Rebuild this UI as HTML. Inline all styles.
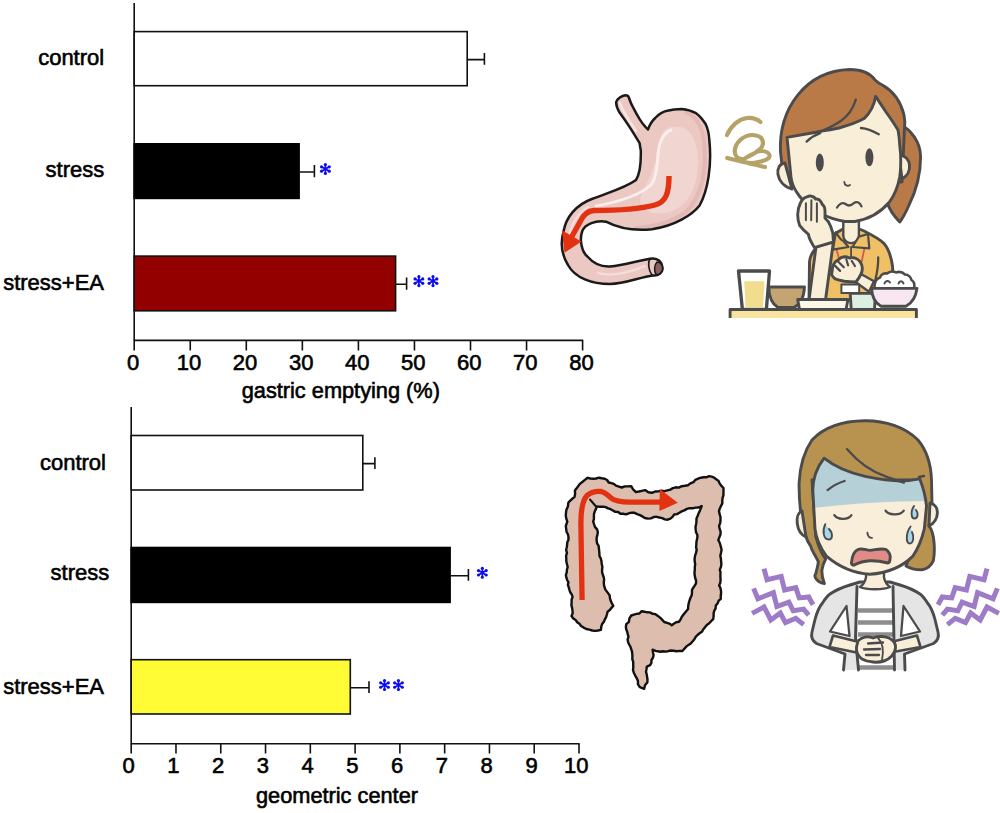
<!DOCTYPE html>
<html><head><meta charset="utf-8"><style>
html,body{margin:0;padding:0;background:#fff;}
body{width:1000px;height:813px;overflow:hidden;position:relative;}
svg{position:absolute;left:0;top:0;}
text{font-family:"Liberation Sans", sans-serif;}
</style></head><body>
<svg width="1000" height="813" viewBox="0 0 1000 813">
<g stroke="#111" stroke-width="1.6" fill="none"><line x1="134.2" y1="3" x2="134.2" y2="340.4" /><line x1="133.6" y1="340.4" x2="583.2" y2="340.4" /><line x1="134.20" y1="340.4" x2="134.20" y2="350.5" /><line x1="190.25" y1="340.4" x2="190.25" y2="350.5" /><line x1="246.30" y1="340.4" x2="246.30" y2="350.5" /><line x1="302.35" y1="340.4" x2="302.35" y2="350.5" /><line x1="358.40" y1="340.4" x2="358.40" y2="350.5" /><line x1="414.45" y1="340.4" x2="414.45" y2="350.5" /><line x1="470.50" y1="340.4" x2="470.50" y2="350.5" /><line x1="526.55" y1="340.4" x2="526.55" y2="350.5" /><line x1="582.60" y1="340.4" x2="582.60" y2="350.5" /></g><rect x="134.2" y="31.6" width="333.00" height="54.1" fill="#fff" stroke="#111" stroke-width="1.6"/><path d="M467.2 59.6H484.4M484.4 53V64.7" stroke="#111" stroke-width="1.6" fill="none"/><rect x="134.2" y="143.8" width="164.90" height="54.6" fill="#000" stroke="#000" stroke-width="1.6"/><path d="M299.1 172.0H314.4M314.4 164.9V177.2" stroke="#111" stroke-width="1.6" fill="none"/><rect x="134.2" y="256.1" width="261.40" height="54.7" fill="#920000" stroke="#111" stroke-width="1.6"/><path d="M395.6 284.3H406.6M406.6 277.4V289.7" stroke="#111" stroke-width="1.6" fill="none"/><g font-size="22" fill="#000" stroke="#000" stroke-width="0.6"><text x="104.2" y="65.2" text-anchor="end" >control</text><text x="104.3" y="177" text-anchor="end" >stress</text><text x="104.0" y="290" text-anchor="end" >stress+EA</text><text x="133.00" y="370" text-anchor="middle" >0</text><text x="189.05" y="370" text-anchor="middle" >10</text><text x="245.10" y="370" text-anchor="middle" >20</text><text x="301.15" y="370" text-anchor="middle" >30</text><text x="357.20" y="370" text-anchor="middle" >40</text><text x="413.25" y="370" text-anchor="middle" >50</text><text x="469.30" y="370" text-anchor="middle" >60</text><text x="525.35" y="370" text-anchor="middle" >70</text><text x="581.40" y="370" text-anchor="middle" >80</text><text x="241.7" y="397.5" text-anchor="start" font-size="21.75">gastric emptying (%)</text></g>
<g stroke="#111" stroke-width="1.6" fill="none"><line x1="131.2" y1="407" x2="131.2" y2="743.8" /><line x1="130.6" y1="743.8" x2="579.6" y2="743.8" /><line x1="131.20" y1="743.8" x2="131.20" y2="753.5" /><line x1="175.98" y1="743.8" x2="175.98" y2="753.5" /><line x1="220.76" y1="743.8" x2="220.76" y2="753.5" /><line x1="265.54" y1="743.8" x2="265.54" y2="753.5" /><line x1="310.32" y1="743.8" x2="310.32" y2="753.5" /><line x1="355.10" y1="743.8" x2="355.10" y2="753.5" /><line x1="399.88" y1="743.8" x2="399.88" y2="753.5" /><line x1="444.66" y1="743.8" x2="444.66" y2="753.5" /><line x1="489.44" y1="743.8" x2="489.44" y2="753.5" /><line x1="534.22" y1="743.8" x2="534.22" y2="753.5" /><line x1="579.00" y1="743.8" x2="579.00" y2="753.5" /></g><rect x="131.2" y="435.5" width="231.60" height="54.5" fill="#fff" stroke="#111" stroke-width="1.6"/><path d="M362.8 463.6H374.9M374.9 457.2V468.9" stroke="#111" stroke-width="1.6" fill="none"/><rect x="131.2" y="547.5" width="318.90" height="54.9" fill="#000" stroke="#000" stroke-width="1.6"/><path d="M450.1 575.8H468.4M468.4 568.9V580.7" stroke="#111" stroke-width="1.6" fill="none"/><rect x="131.2" y="659.7" width="219.10" height="54.3" fill="#fffb34" stroke="#111" stroke-width="1.6"/><path d="M350.3 687.8H369M369 681.2V693.1" stroke="#111" stroke-width="1.6" fill="none"/><g font-size="22" fill="#000" stroke="#000" stroke-width="0.6"><text x="106.0" y="469.5" text-anchor="end" >control</text><text x="109.3" y="580" text-anchor="end" >stress</text><text x="104.0" y="693.7" text-anchor="end" >stress+EA</text><text x="128.50" y="773.2" text-anchor="middle" >0</text><text x="173.28" y="773.2" text-anchor="middle" >1</text><text x="218.06" y="773.2" text-anchor="middle" >2</text><text x="262.84" y="773.2" text-anchor="middle" >3</text><text x="307.62" y="773.2" text-anchor="middle" >4</text><text x="352.40" y="773.2" text-anchor="middle" >5</text><text x="397.18" y="773.2" text-anchor="middle" >6</text><text x="441.96" y="773.2" text-anchor="middle" >7</text><text x="486.74" y="773.2" text-anchor="middle" >8</text><text x="531.52" y="773.2" text-anchor="middle" >9</text><text x="576.30" y="773.2" text-anchor="middle" >10</text><text x="256.0" y="803" text-anchor="start" font-size="21.75">geometric center</text></g>
<path d="M325.40 169.00L325.40 164.55M325.40 169.00L321.55 166.78M325.40 169.00L321.55 171.22M325.40 169.00L325.40 173.45M325.40 169.00L329.25 171.22M325.40 169.00L329.25 166.78" stroke="#0c0cf0" stroke-width="1.7" fill="none"/><g fill="#0c0cf0"><circle cx="325.40" cy="164.55" r="1.6"/><circle cx="321.55" cy="166.78" r="1.6"/><circle cx="321.55" cy="171.22" r="1.6"/><circle cx="325.40" cy="173.45" r="1.6"/><circle cx="329.25" cy="171.22" r="1.6"/><circle cx="329.25" cy="166.78" r="1.6"/></g><path d="M418.90 281.10L418.90 276.65M418.90 281.10L415.05 278.88M418.90 281.10L415.05 283.33M418.90 281.10L418.90 285.55M418.90 281.10L422.75 283.33M418.90 281.10L422.75 278.88" stroke="#0c0cf0" stroke-width="1.7" fill="none"/><g fill="#0c0cf0"><circle cx="418.90" cy="276.65" r="1.6"/><circle cx="415.05" cy="278.88" r="1.6"/><circle cx="415.05" cy="283.33" r="1.6"/><circle cx="418.90" cy="285.55" r="1.6"/><circle cx="422.75" cy="283.33" r="1.6"/><circle cx="422.75" cy="278.88" r="1.6"/></g><path d="M433.00 281.10L433.00 276.65M433.00 281.10L429.15 278.88M433.00 281.10L429.15 283.33M433.00 281.10L433.00 285.55M433.00 281.10L436.85 283.33M433.00 281.10L436.85 278.88" stroke="#0c0cf0" stroke-width="1.7" fill="none"/><g fill="#0c0cf0"><circle cx="433.00" cy="276.65" r="1.6"/><circle cx="429.15" cy="278.88" r="1.6"/><circle cx="429.15" cy="283.33" r="1.6"/><circle cx="433.00" cy="285.55" r="1.6"/><circle cx="436.85" cy="283.33" r="1.6"/><circle cx="436.85" cy="278.88" r="1.6"/></g><path d="M482.35 572.80L482.35 568.35M482.35 572.80L478.50 570.57M482.35 572.80L478.50 575.02M482.35 572.80L482.35 577.25M482.35 572.80L486.20 575.02M482.35 572.80L486.20 570.57" stroke="#0c0cf0" stroke-width="1.7" fill="none"/><g fill="#0c0cf0"><circle cx="482.35" cy="568.35" r="1.6"/><circle cx="478.50" cy="570.57" r="1.6"/><circle cx="478.50" cy="575.02" r="1.6"/><circle cx="482.35" cy="577.25" r="1.6"/><circle cx="486.20" cy="575.02" r="1.6"/><circle cx="486.20" cy="570.57" r="1.6"/></g><path d="M384.50 685.05L384.50 680.60M384.50 685.05L380.65 682.82M384.50 685.05L380.65 687.27M384.50 685.05L384.50 689.50M384.50 685.05L388.35 687.27M384.50 685.05L388.35 682.82" stroke="#0c0cf0" stroke-width="1.7" fill="none"/><g fill="#0c0cf0"><circle cx="384.50" cy="680.60" r="1.6"/><circle cx="380.65" cy="682.82" r="1.6"/><circle cx="380.65" cy="687.27" r="1.6"/><circle cx="384.50" cy="689.50" r="1.6"/><circle cx="388.35" cy="687.27" r="1.6"/><circle cx="388.35" cy="682.82" r="1.6"/></g><path d="M398.45 685.05L398.45 680.60M398.45 685.05L394.60 682.82M398.45 685.05L394.60 687.27M398.45 685.05L398.45 689.50M398.45 685.05L402.30 687.27M398.45 685.05L402.30 682.82" stroke="#0c0cf0" stroke-width="1.7" fill="none"/><g fill="#0c0cf0"><circle cx="398.45" cy="680.60" r="1.6"/><circle cx="394.60" cy="682.82" r="1.6"/><circle cx="394.60" cy="687.27" r="1.6"/><circle cx="398.45" cy="689.50" r="1.6"/><circle cx="402.30" cy="687.27" r="1.6"/><circle cx="402.30" cy="682.82" r="1.6"/></g>
<path d="M592.2,630.5 L589.3,629.7 L586.3,629.0 L583.6,627.6 L581.1,625.9 L579.4,623.8 L577.2,622.2 L575.6,620.0 L573.3,618.5 L571.5,616.0 L572.7,613.3 L572.5,610.6 L572.1,607.9 L571.4,605.1 L571.6,602.4 L571.6,599.7 L572.6,596.8 L571.7,594.4 L570.2,592.2 L569.4,589.8 L568.8,587.4 L567.9,585.0 L568.4,582.2 L567.1,580.0 L566.3,577.4 L565.9,574.8 L566.8,572.2 L566.9,569.6 L567.7,567.0 L567.0,564.2 L566.3,561.3 L566.3,558.5 L566.1,555.7 L567.0,552.8 L566.1,550.0 L566.7,547.5 L567.1,545.0 L567.3,542.3 L568.4,540.0 L568.5,537.1 L567.9,534.3 L566.5,531.7 L566.2,528.9 L565.8,526.0 L567.3,521.7 L566.3,518.7 L565.8,515.7 L566.0,512.6 L566.4,509.8 L567.9,506.4 L568.4,502.5 L570.3,500.6 L572.2,498.8 L574.6,496.9 L575.1,493.8 L574.9,490.4 L576.8,488.0 L578.6,485.6 L580.2,483.6 L582.6,481.8 L584.9,479.9 L587.6,477.8 L590.4,478.5 L593.2,478.7 L596.0,478.5 L599.0,477.7 L601.9,478.3 L604.7,478.7 L607.1,480.0 L608.7,482.5 L611.6,483.2 L614.2,484.2 L616.0,485.7 L618.9,486.6 L621.8,487.5 L624.8,486.4 L627.7,486.4 L631.2,486.1 L633.1,489.3 L635.9,492.1 L638.9,491.5 L641.9,490.8 L645.1,490.1 L648.3,492.3 L652.0,492.8 L655.1,491.5 L658.4,491.4 L661.4,490.8 L664.5,491.2 L667.4,490.4 L670.3,489.6 L672.9,488.1 L675.7,487.3 L678.8,487.6 L681.8,486.2 L684.9,485.8 L687.9,485.2 L690.4,483.4 L693.4,482.2 L695.4,479.8 L698.1,478.7 L700.8,477.7 L703.7,477.3 L706.7,477.2 L708.9,476.1 L711.7,476.6 L714.1,477.6 L716.2,479.3 L718.4,480.7 L719.6,483.3 L721.2,485.7 L723.5,488.0 L723.5,491.7 L723.4,495.4 L722.6,497.9 L722.3,500.7 L722.3,503.5 L721.0,505.9 L719.8,508.4 L719.0,511.1 L719.6,514.2 L720.5,517.2 L720.5,520.3 L720.2,523.1 L719.1,525.9 L719.6,528.7 L720.6,531.6 L720.5,534.4 L719.4,537.2 L718.3,540.2 L719.6,542.5 L720.4,545.0 L721.0,547.4 L721.6,550.0 L721.0,552.8 L720.3,555.7 L720.9,558.5 L721.1,561.3 L721.4,564.2 L720.9,567.0 L719.8,569.6 L720.5,572.2 L720.4,574.8 L720.4,577.4 L720.6,580.0 L720.3,582.7 L719.2,585.4 L720.4,588.0 L721.0,590.7 L721.1,593.3 L720.7,596.0 L720.8,598.8 L718.7,600.7 L717.5,603.4 L715.8,605.5 L715.6,608.3 L714.2,610.8 L713.6,613.5 L713.6,616.3 L713.2,619.2 L711.1,621.2 L709.2,623.3 L706.8,625.0 L705.0,627.3 L703.2,629.5 L701.9,631.8 L699.6,633.3 L697.5,635.0 L695.7,636.9 L694.4,639.3 L692.7,641.3 L690.8,643.4 L688.5,644.9 L686.3,646.6 L684.4,648.7 L682.4,651.0 L679.5,650.9 L676.7,651.3 L673.8,650.7 L670.9,650.5 L668.0,651.2 L665.5,651.6 L662.9,651.2 L660.3,651.7 L657.8,651.3 L655.6,650.8 L652.6,649.7 L653.0,652.5 L653.6,655.3 L652.9,657.9 L651.5,660.0 L651.4,662.9 L650.1,665.2 L646.8,666.7 L646.5,669.2 L646.0,671.8 L646.7,674.4 L647.1,676.9 L647.5,679.5 L647.4,682.3 L645.0,685.3 L644.2,688.8 L639.8,687.2 L638.0,684.4 L637.9,680.8 L636.5,677.8 L635.1,675.3 L633.8,672.7 L633.0,670.0 L633.3,667.3 L633.2,664.6 L633.2,661.9 L632.3,659.2 L632.4,656.7 L632.3,654.1 L632.0,651.5 L631.2,649.1 L630.4,646.7 L629.1,644.5 L628.1,642.1 L627.6,639.5 L628.5,636.9 L627.8,634.4 L627.2,631.8 L626.2,629.4 L625.9,626.8 L626.3,624.2 L628.9,621.9 L629.4,618.4 L631.3,615.5 L633.9,614.6 L636.6,613.9 L639.4,613.5 L641.7,611.2 L644.4,611.7 L647.1,612.3 L649.9,612.4 L652.4,613.7 L655.1,614.1 L657.6,615.8 L660.1,617.6 L662.1,619.7 L664.2,622.0 L667.1,622.9 L670.0,623.9 L671.7,625.2 L673.8,623.7 L676.1,622.3 L679.0,621.7 L680.6,619.4 L681.7,617.0 L683.7,614.3 L685.8,611.7 L688.1,609.0 L688.2,605.9 L688.8,602.9 L689.7,599.9 L690.6,597.5 L691.7,595.2 L692.0,592.7 L692.0,589.9 L693.3,587.7 L694.7,585.6 L696.0,583.4 L696.1,580.6 L695.2,578.0 L694.7,575.3 L694.5,572.5 L694.8,569.7 L694.8,567.0 L695.2,564.2 L694.7,561.3 L694.6,558.4 L695.1,555.6 L696.0,552.9 L696.7,550.1 L696.1,547.5 L696.3,545.0 L696.4,542.4 L696.8,540.0 L697.4,537.4 L697.3,534.7 L696.0,532.2 L695.7,529.7 L695.5,526.9 L696.1,524.0 L696.4,521.8 L696.5,518.5 L697.7,515.7 L698.8,512.9 L700.3,509.7 L701.7,506.0 L698.7,507.5 L695.5,507.6 L692.7,508.3 L689.7,508.2 L686.9,508.9 L684.3,510.4 L681.7,511.4 L679.4,512.8 L677.0,514.1 L674.2,514.5 L672.5,516.9 L670.4,518.6 L667.6,519.7 L664.8,519.4 L662.2,518.1 L659.4,517.5 L656.6,516.8 L654.2,516.9 L650.9,518.4 L647.9,518.6 L644.8,518.0 L642.4,516.4 L639.9,515.1 L637.2,514.1 L634.5,512.8 L631.5,512.7 L628.7,513.3 L626.0,514.4 L623.1,513.8 L620.4,513.7 L618.2,512.0 L615.3,511.9 L612.9,510.5 L610.6,509.2 L608.1,508.4 L605.7,507.1 L603.0,506.6 L599.6,506.7 L596.9,506.4 L596.0,508.9 L594.8,511.3 L594.0,513.8 L593.9,516.5 L593.9,519.2 L593.2,521.4 L594.1,524.3 L595.1,527.1 L597.1,529.4 L597.8,532.0 L597.5,534.7 L596.7,537.4 L596.6,540.1 L597.0,543.1 L598.6,545.9 L598.9,548.4 L599.2,551.0 L599.4,553.6 L599.5,556.2 L600.8,558.5 L601.5,561.2 L601.7,564.0 L602.4,566.7 L602.1,569.5 L602.1,572.3 L602.9,575.0 L603.8,577.4 L604.1,579.9 L603.8,582.5 L604.0,585.1 L604.6,587.5 L605.4,589.6 L607.5,592.4 L609.6,595.2 L609.9,597.9 L610.6,600.5 L611.7,603.0 L613.3,605.9 L611.4,607.9 L609.8,610.0 L607.6,611.7 L606.9,614.5 L606.1,617.2 L604.9,619.3 L603.9,621.8 L602.1,624.1 L601.3,626.6 L600.9,629.8 L598.0,630.5 L595.0,630.9 Z" fill="#dcbdae" stroke="#111" stroke-width="2.4" stroke-linejoin="round" stroke-linecap="round" />
<path d="M596,506.5 L590,499.5" fill="none" stroke="#111" stroke-width="2.0" stroke-linejoin="round" stroke-linecap="round" />
<path d="M582.1,600 L580.9,525 C580.7,510 582,501 587,495.5 C591,492 597,491 601.3,491.5 C605,492.5 608,495 611,498 C614,500.5 620,502 630,502.2 L660,502.2" fill="none" stroke="#e23211" stroke-width="5.3" stroke-linejoin="round" stroke-linecap="butt" />
<path d="M659.8,489 L677.8,502.8 L659.4,511.1 Z" fill="#e23211" />
<path d="M616.2,102 C617,99 622,95.5 625.2,95.2 C627,95.2 628.5,96 628.8,97.5 C631,104 633.6,108.4 633.6,108.4 C636,113 639.6,119.2 639.6,119.2 C642,123 645,127 648,129.4 C650,124 653,120 655.2,118 C659,114 663,111.5 667.2,110.8 C672,109.5 676,109 681.6,109 C688,109.5 692,111 696,113.2 C700,116 703,120 705.6,124 C708,129 709,133 709.3,140 C712,165 708,190 699.6,205.5 C692,215 675,226 652,229.3 C635,231 618,228 606,221.7 C596,220 585,224 582.3,231 C579,240 582,252 587.4,256.5 C593,263 601,267 610,266.5 C625,265 640,260 652,258.5 C658,258 662,262 662.5,267.5 C663,273 658,276 653,275.5 C640,277 625,284 610,284 C592,284 575,278 568,265 C560,252 561,240 563.6,231 C566,218 575,205 592.5,198.7 C610,192 625,188 636,180 C640,174 641,160 640.8,150.4 C640,146 639.6,143.2 639.6,143.2 C636,137 630,127.6 630,127.6 C625,120 619.2,112 619.2,112 C617.5,109 616,106 616.2,102 Z" fill="#ecc8c2" />
<clipPath id="stc"><path d="M616.2,102 C617,99 622,95.5 625.2,95.2 C627,95.2 628.5,96 628.8,97.5 C631,104 633.6,108.4 633.6,108.4 C636,113 639.6,119.2 639.6,119.2 C642,123 645,127 648,129.4 C650,124 653,120 655.2,118 C659,114 663,111.5 667.2,110.8 C672,109.5 676,109 681.6,109 C688,109.5 692,111 696,113.2 C700,116 703,120 705.6,124 C708,129 709,133 709.3,140 C712,165 708,190 699.6,205.5 C692,215 675,226 652,229.3 C635,231 618,228 606,221.7 C596,220 585,224 582.3,231 C579,240 582,252 587.4,256.5 C593,263 601,267 610,266.5 C625,265 640,260 652,258.5 C658,258 662,262 662.5,267.5 C663,273 658,276 653,275.5 C640,277 625,284 610,284 C592,284 575,278 568,265 C560,252 561,240 563.6,231 C566,218 575,205 592.5,198.7 C610,192 625,188 636,180 C640,174 641,160 640.8,150.4 C640,146 639.6,143.2 639.6,143.2 C636,137 630,127.6 630,127.6 C625,120 619.2,112 619.2,112 C617.5,109 616,106 616.2,102 Z"/></clipPath>
<path d="M682,107 C702,108 711,125 711,150 C711,180 705,205 690,218 C675,228 655,232 630,230 L640,238 C680,236 718,215 718,150 C718,110 700,100 682,100 Z" fill="#dcaea9" clip-path="url(#stc)"/>
<path d="M686,112 C700,118 705,135 705,155 C705,180 698,200 686,212 C672,222 655,227 636,228" fill="none" stroke="#e2b9b4" stroke-width="4" stroke-linejoin="round" stroke-linecap="round" clip-path="url(#stc)"/>
<path d="M668,128 C685,122 698,135 698,160 C698,185 690,205 670,212 C655,216 640,212 640,200 C645,185 655,170 658,150 C660,138 662,130 668,128 Z" fill="#f0d5d1" clip-path="url(#stc)"/>
<path d="M620,103 C623,112 629,121 636,131" fill="none" stroke="#f8e6e2" stroke-width="2.4" stroke-linejoin="round" stroke-linecap="round" />
<path d="M671,130 C664,133 659,142 658,155 C657,168 656,178 651,185 C640,195 618,202 596,206" fill="none" stroke="#fbeeeb" stroke-width="3.0" stroke-linejoin="round" stroke-linecap="round" />
<path d="M588,207 C578,213 572,222 569,236" fill="none" stroke="#f5dedb" stroke-width="2.2" stroke-linejoin="round" stroke-linecap="round" />
<path d="M598,273 C612,277 628,273 645,266" fill="none" stroke="#f5dedb" stroke-width="2.0" stroke-linejoin="round" stroke-linecap="round" />
<path d="M616.2,102 C617,99 622,95.5 625.2,95.2 C627,95.2 628.5,96 628.8,97.5 C631,104 633.6,108.4 633.6,108.4 C636,113 639.6,119.2 639.6,119.2 C642,123 645,127 648,129.4 C650,124 653,120 655.2,118 C659,114 663,111.5 667.2,110.8 C672,109.5 676,109 681.6,109 C688,109.5 692,111 696,113.2 C700,116 703,120 705.6,124 C708,129 709,133 709.3,140 C712,165 708,190 699.6,205.5 C692,215 675,226 652,229.3 C635,231 618,228 606,221.7 C596,220 585,224 582.3,231 C579,240 582,252 587.4,256.5 C593,263 601,267 610,266.5 C625,265 640,260 652,258.5 C658,258 662,262 662.5,267.5 C663,273 658,276 653,275.5 C640,277 625,284 610,284 C592,284 575,278 568,265 C560,252 561,240 563.6,231 C566,218 575,205 592.5,198.7 C610,192 625,188 636,180 C640,174 641,160 640.8,150.4 C640,146 639.6,143.2 639.6,143.2 C636,137 630,127.6 630,127.6 C625,120 619.2,112 619.2,112 C617.5,109 616,106 616.2,102 Z" fill="none" stroke="#1a1a1a" stroke-width="2.5" stroke-linejoin="round" stroke-linecap="round" />
<path d="M650,258.5 C648,262 648,270 652,275" fill="none" stroke="#1a1a1a" stroke-width="1.6" stroke-linejoin="round" stroke-linecap="round" />
<path d="M657,262 C661,262 663,266 662.5,269 C662,273 659,275 656,274.5 C654,271 654,265 657,262 Z" fill="#8a6060" stroke="#1a1a1a" stroke-width="1.5" stroke-linejoin="round" stroke-linecap="round" />
<path d="M669,176 C669,193 666,202 655,205 C640,209 612,210.5 594,210.5 C587,211 583,215 580,222 L571,238" fill="none" stroke="#e23211" stroke-width="5.4" stroke-linejoin="round" stroke-linecap="butt" />
<path d="M561.9,230.2 L581.5,241.5 L564.5,252.8 Z" fill="#e23211" />
<path d="M727,135 C731,125.5 739,119 747,118 C752,117.5 757,119 760.5,122" fill="none" stroke="#b5a266" stroke-width="4.2" stroke-linejoin="round" stroke-linecap="round" />
<path d="M743,159.4 C738,159 734.5,156 734.8,151 C735,143 743,135 752.7,135 C759,135 763,138 763,143.2 C763,148 757,152 751,155 C747,157 745,158.5 743,159.4" fill="none" stroke="#b5a266" stroke-width="4.2" stroke-linejoin="round" stroke-linecap="round" />
<path d="M727.2,158 L737.5,160.5 C741,161.5 745,162.6 750,163" fill="none" stroke="#b5a266" stroke-width="4.2" stroke-linejoin="round" stroke-linecap="round" />
<path d="M757,151.5 C762,150.5 768,151 769.5,155 C770.5,158.5 766,160 761,161.5 C757,162.5 752,163.2 748.4,163.2 C754,164.5 760,166 765.1,167" fill="none" stroke="#b5a266" stroke-width="4.0" stroke-linejoin="round" stroke-linecap="round" />
<path d="M900,124 C911,130 920.6,142 920.6,157 C920.6,176 915,193 909,205 C906,212 903,218 899.7,222 C894,216 889,209 887,202 L897,150 Z" fill="#b97a48" stroke="#4b4b4b" stroke-width="2.9" stroke-linejoin="round" stroke-linecap="round" />
<path d="M780.5,152 C778.5,108 806,71 849.5,69.5 C862,69.5 870,73 875,80 C878,83 880,84 884,86 C894,92 901,103 904,115 C905,120 905,124 904.5,128 L902,182 L784,182 Z" fill="#b97a48" stroke="#4b4b4b" stroke-width="2.9" stroke-linejoin="round" stroke-linecap="round" />
<path d="M785,163 C774,164 775,184 792,189 Z" fill="#f9eed8" stroke="#4b4b4b" stroke-width="2.9" stroke-linejoin="round" stroke-linecap="round" />
<path d="M899,155 C912,156 913,173 902,179 Z" fill="#f9eed8" stroke="#4b4b4b" stroke-width="2.9" stroke-linejoin="round" stroke-linecap="round" />
<path d="M809,300 L809.5,262 C810,252 820,242 836,233 L843,229 L859,229 L863,230.5 C872,235 880,239 884,243.5 C888,248 891,256 892.5,266 L894,300 Z" fill="#efc066" stroke="#4b4b4b" stroke-width="2.9" stroke-linejoin="round" stroke-linecap="round" />
<path d="M835.5,246 L838.9,258 M865,246 L861.6,261.7" fill="none" stroke="#d45a4a" stroke-width="1.8" stroke-linejoin="round" stroke-linecap="round" />
<path d="M843.3,218 L843.3,236 C843.5,240 847,243.1 851.1,243.1 C855,243.1 858.9,240 858.9,236 L858.9,218 Z" fill="#f9eed8" stroke="#4b4b4b" stroke-width="2.4" stroke-linejoin="round" stroke-linecap="round" />
<path d="M836,232 C838,236 841,240 843.3,241 L848.5,247 L832.9,249.6 Z" fill="#efc066" stroke="#4b4b4b" stroke-width="2.2" stroke-linejoin="round" stroke-linecap="round" />
<path d="M858.9,236.6 L868,234 L869.3,248.3 L852.4,247 Z" fill="#efc066" stroke="#4b4b4b" stroke-width="2.2" stroke-linejoin="round" stroke-linecap="round" />
<path d="M851.1,247 L851.1,257.4" fill="none" stroke="#4b4b4b" stroke-width="1.8" stroke-linejoin="round" stroke-linecap="round" />
<path d="M787,137.4 L816,132.2 C825,130.5 832,129.5 839,128 C850,125 858,122 864.1,118.6 C870,113 874,107 875.6,96.4 L886,112 C891,119 895,125 898,130 C899,135 899.5,140 899.8,146 L900.6,154 C901,165 900.5,172 899.7,177 C897.5,189 894,196 889.2,202.3 C881,212 870,219 855,221.5 L845,221.5 C828,219 810,210 799.3,196 C794,189 791.5,183 791,177 L788.5,152 Z" fill="#f9eed8" stroke="#4b4b4b" stroke-width="2.9" stroke-linejoin="round" stroke-linecap="round" />
<path d="M855.8,99.7 C853,109 848,116 841.1,120.7 C834,125.5 826,129.5 818.1,132.2" fill="none" stroke="#4b4b4b" stroke-width="2.3" stroke-linejoin="round" stroke-linecap="round" />
<ellipse cx="819.8" cy="162.5" rx="4" ry="9" fill="#4b4b4b"/>
<ellipse cx="869.4" cy="157.3" rx="4" ry="9" fill="#4b4b4b"/>
<path d="M806.6,141.6 C811,137.5 815,135 820.2,133.2" fill="none" stroke="#4b4b4b" stroke-width="2.3" stroke-linejoin="round" stroke-linecap="round" />
<path d="M861,128 C867,128.5 873,131 878.8,134.3" fill="none" stroke="#4b4b4b" stroke-width="2.3" stroke-linejoin="round" stroke-linecap="round" />
<path d="M844.3,182 C844.5,185.5 847.5,186.5 850,185" fill="none" stroke="#4b4b4b" stroke-width="1.9" stroke-linejoin="round" stroke-linecap="round" />
<path d="M837,207.5 C839.5,203.5 842.5,202 845.5,204 C848.5,206.5 851,206 854,203 C857,201 860,202.5 861.5,206.4" fill="none" stroke="#4b4b4b" stroke-width="2.3" stroke-linejoin="round" stroke-linecap="round" />
<path d="M809,300 L816,247 L833.5,241 L825.5,300 Z" fill="#f9eed8" stroke="#4b4b4b" stroke-width="2.9" stroke-linejoin="round" stroke-linecap="round" />
<path d="M814.4,247.6 C811,242 808.5,236 808.5,234.3 C803,230 799.6,225.4 799.6,225.4 C797,219 797,210 800,204 C801.5,200 804,197.5 807,196.8 C809,195.8 811,195.8 812.5,196.5 C814,197 815,198 815.6,199.2 C817.5,198.8 819.5,199.5 820.6,201.3 C821.5,202.5 822,203.5 822.3,204.5 C824,205.5 825,208 825,211 L825,218 C826.5,220 828.4,221.7 828.4,221.7 C831,226 832.8,232.8 832.8,232.8 L833.5,242 Z" fill="#f9eed8" stroke="#4b4b4b" stroke-width="2.9" stroke-linejoin="round" stroke-linecap="round" />
<path d="M805.9,203.3 L805.9,220.3 M811.4,200.3 L811.2,220.3 M816.9,203.3 L816.9,221.7" fill="none" stroke="#4b4b4b" stroke-width="2.0" stroke-linejoin="round" stroke-linecap="round" />
<path d="M878.2,257.4 C878.5,265 877,273 875.2,280.7" fill="none" stroke="#4b4b4b" stroke-width="2.3" stroke-linejoin="round" stroke-linecap="round" />
<path d="M861,274 L874,281.3 L869,291.8 L855.5,282 Z" fill="#f9eed8" stroke="#4b4b4b" stroke-width="2.4" stroke-linejoin="round" stroke-linecap="round" />
<path d="M832.1,271.5 C832,268 833,265 834,263.5 C835.5,261.5 837,260.5 838.3,259.8 C840,258 842,257 844.4,256.8 C846.5,256.8 848,257.3 849.4,258 C851,257.5 853,257.5 854.9,258 C857.5,259 859.5,260.5 860.4,262.3 C861.5,264 862.3,266 862.3,268.4 C862.3,270.5 861.8,272.5 861,274 C859,278 857,281 855.5,282 C852,282 848,281.8 844.4,281.3 C840,280.5 837.5,279.8 835.2,278.9 C833.5,277.5 832.3,276 831.5,274.6 Z" fill="#f9eed8" stroke="#4b4b4b" stroke-width="2.9" stroke-linejoin="round" stroke-linecap="round" />
<path d="M834.6,265.4 L840.1,270.9 M838.3,261.7 L843.8,267.2 M846.3,259.2 L848.1,265.4 M851.8,261 L854.9,266" fill="none" stroke="#4b4b4b" stroke-width="2.2" stroke-linejoin="round" stroke-linecap="round" />
<path d="M841.4,284.4 L859.2,284.4 L859.2,293 L841.4,293 Z" fill="#ffffff" stroke="#4b4b4b" stroke-width="2.0" stroke-linejoin="round" stroke-linecap="round" />
<path d="M738.5,271 L769.5,271 L766.4,309.5 L742.4,309.5 Z" fill="#ffffff" stroke="#4b4b4b" stroke-width="3.3" stroke-linejoin="round" stroke-linecap="round" />
<path d="M744.2,281.2 L764.5,281.2 L763,307.2 L745.6,307.2 Z" fill="#f2dc8e" />
<path d="M768.8,287 L804.5,287 C804,296 801,304 794,307.5 L778,307.5 C772,304 769,296 768.8,287 Z" fill="#c4a472" stroke="#4b4b4b" stroke-width="2.9" stroke-linejoin="round" stroke-linecap="round" />
<path d="M797.7,299.5 L848,299.5 L846,309.5 L799.5,309.5 Z" fill="#fbf8e8" stroke="#4b4b4b" stroke-width="2.9" stroke-linejoin="round" stroke-linecap="round" />
<path d="M850.2,293.4 L875.5,293.4 L874.5,309.5 L851.2,309.5 Z" fill="#dcefe2" stroke="#4b4b4b" stroke-width="2.9" stroke-linejoin="round" stroke-linecap="round" />
<path d="M874.6,288.4 C874,283 876,279 880,277.5 C881,274.5 884,273 887,273.5 C889,271.5 893,271 896,272.4 C899,271.5 903,272.5 905,274.5 C908,274.5 911,277 911.5,280 C914,281.5 915,284.5 913.9,288.4 Z" fill="#ffffff" stroke="#4b4b4b" stroke-width="2.6" stroke-linejoin="round" stroke-linecap="round" />
<path d="M884.5,283.5 C885.5,280.5 888.5,280 890,282.5 M898.5,283.5 C899.5,280.5 902.5,280.5 903.5,283.5" fill="none" stroke="#4b4b4b" stroke-width="2.0" stroke-linejoin="round" stroke-linecap="round" />
<path d="M871.5,288.4 L917,288.4 C916,296 912,303 906,306.3 L881,306.3 C875,303 872,296 871.5,288.4 Z" fill="#f8e7f0" stroke="#4b4b4b" stroke-width="2.9" stroke-linejoin="round" stroke-linecap="round" />
<path d="M884,309 L901,309" fill="none" stroke="#4b4b4b" stroke-width="2.4" stroke-linejoin="round" stroke-linecap="round" />
<path d="M730.1,318 L730.1,309.5 L916.4,309.5 L916.4,318 Z" fill="#f8e49e" />
<path d="M730.1,318 L730.1,309.5 L916.4,309.5 L916.4,318" fill="none" stroke="#4b4b4b" stroke-width="2.9" stroke-linejoin="round" stroke-linecap="butt" />
<path d="M764.0,568.6 L767.0,579.8 L781.2,576.4 L784.6,590.0 L795.8,587.6 L799.3,597.9 L808.7,597.0 L813.0,604.8" fill="none" stroke="#9e7bc6" stroke-width="5.0" stroke-linejoin="miter" stroke-linecap="butt" />
<path d="M987.0,568.6 L984.0,579.8 L969.8,576.4 L966.4,590.0 L955.2,587.6 L951.7,597.9 L942.3,597.0 L938.0,604.8" fill="none" stroke="#9e7bc6" stroke-width="5.0" stroke-linejoin="miter" stroke-linecap="butt" />
<path d="M753.6,588.4 L757.9,598.8 L773.4,592.7 L776.9,606.5 L788.9,602.2 L793.2,610.8 L803.6,609.1 L808.7,615.1" fill="none" stroke="#9e7bc6" stroke-width="5.0" stroke-linejoin="miter" stroke-linecap="butt" />
<path d="M997.4,588.4 L993.1,598.8 L977.6,592.7 L974.1,606.5 L962.1,602.2 L957.8,610.8 L947.4,609.1 L942.3,615.1" fill="none" stroke="#9e7bc6" stroke-width="5.0" stroke-linejoin="miter" stroke-linecap="butt" />
<path d="M752.1,613.4 L764.0,607.0 L770.8,620.0 L780.3,613.0 L785.5,622.6 L795.8,618.3 L803.6,624.6" fill="none" stroke="#9e7bc6" stroke-width="5.0" stroke-linejoin="miter" stroke-linecap="butt" />
<path d="M998.9,613.4 L987.0,607.0 L980.2,620.0 L970.7,613.0 L965.5,622.6 L955.2,618.3 L947.4,624.6" fill="none" stroke="#9e7bc6" stroke-width="5.0" stroke-linejoin="miter" stroke-linecap="butt" />
<path d="M865,420.7 C885,420.5 905,427 918,440 C928,452 931,465 931.5,480 L932,505 L929,526 C935,533 935,552 933.4,560.7 C931,566 928,569 922,569.8 C916,570 911,569 906,566 L912,550 L920,480 L812,480 L815.8,536.9 C819,548 823,556 825.7,559 C822,566 820,572 824.4,583.6 C818,583 813,577 815.8,573.8 C817,568 818.3,565 818.3,561.5 C815,555 811,549 810.9,546.7 C806,540 803,530 801,514.8 C799,500 799,490 799.1,483 C800,465 805,450 812,440 C825,426 845,420.9 865,420.7 Z" fill="#b8924f" stroke="#4b4b4b" stroke-width="2.9" stroke-linejoin="round" stroke-linecap="round" />
<path d="M802,511 C794,514 796,533 806,537 Z" fill="#f9eed9" stroke="#4b4b4b" stroke-width="2.9" stroke-linejoin="round" stroke-linecap="round" />
<path d="M930,503 C940,505 940,520 929,526 Z" fill="#f9eed9" stroke="#4b4b4b" stroke-width="2.9" stroke-linejoin="round" stroke-linecap="round" />
<path d="M843.5,670 L845,654 L816.5,643.5 C811,640 811,636 812,632 L815,619.5 C817,612 819,607 822.5,603 C825,599 827,596 830,594 C836,590 845,586.5 850,585 L860,582 L890,582 L900,585 C905,586.5 914,590 920,594 C923,596 925,599 927.5,603 C931,607 933,612 935,619.5 L938,632 C939,636 939,640 933.5,643.5 L904.5,654 L905,670 Z" fill="#e5e5e5" />
<path d="M843.5,670 L845,654 L816.5,643.5 C811,640 811,636 812,632 L815,619.5 C817,612 819,607 822.5,603 C825,599 827,596 830,594 C836,590 845,586.5 850,585 L860,582 L890,582 L900,585 C905,586.5 914,590 920,594 C923,596 925,599 927.5,603 C931,607 933,612 935,619.5 L938,632 C939,636 939,640 933.5,643.5 L904.5,654 L905,670" fill="none" stroke="#4b4b4b" stroke-width="2.9" stroke-linejoin="round" stroke-linecap="round" />
<path d="M857,586.5 L893,586.5 L894.5,670 L858.5,670 Z" fill="#ffffff" />
<path d="M858,610.5 L893,610.5" fill="none" stroke="#8e8e8e" stroke-width="4.3" stroke-linejoin="round" stroke-linecap="butt" />
<path d="M858,622.5 L893,622.5" fill="none" stroke="#8e8e8e" stroke-width="4.3" stroke-linejoin="round" stroke-linecap="butt" />
<path d="M858,634.5 L893,634.5" fill="none" stroke="#8e8e8e" stroke-width="4.3" stroke-linejoin="round" stroke-linecap="butt" />
<path d="M858,667.5 L893,667.5" fill="none" stroke="#8e8e8e" stroke-width="4.3" stroke-linejoin="round" stroke-linecap="butt" />
<path d="M857,586.5 L855.5,637.5 L858.5,670 M893,586.5 L894.5,670" fill="none" stroke="#4b4b4b" stroke-width="2.9" stroke-linejoin="round" stroke-linecap="round" />
<path d="M846.5,606 L830,631.5 L849.5,636 Z" fill="#ffffff" stroke="#4b4b4b" stroke-width="2.3" stroke-linejoin="round" stroke-linecap="round" />
<path d="M903.5,606 L920,631.5 L901,636 Z" fill="#ffffff" stroke="#4b4b4b" stroke-width="2.3" stroke-linejoin="round" stroke-linecap="round" />
<path d="M829.5,647 L833,635.5 L859,642 L859,653 Z" fill="#f9eed9" stroke="#4b4b4b" stroke-width="2.6" stroke-linejoin="round" stroke-linecap="round" />
<path d="M920.5,647 L917,635.5 L891,642 L893,652 Z" fill="#f9eed9" stroke="#4b4b4b" stroke-width="2.6" stroke-linejoin="round" stroke-linecap="round" />
<path d="M858,641 C862,637 868,636 873,638 C877,636 884,636 889,638 C893,640 896,643 895.5,648 C895,654 890,659 884,661 C878,663 868,662.5 862,659 C858,656 856,651 856.5,647 Z" fill="#f9eed9" stroke="#4b4b4b" stroke-width="2.9" stroke-linejoin="round" stroke-linecap="round" />
<path d="M868,643.5 L883,642.5 M864,649.5 L880,649 M866,655 L879,655" fill="none" stroke="#4b4b4b" stroke-width="2.3" stroke-linejoin="round" stroke-linecap="round" />
<path d="M878,638 C882,642 884,650 882,660" fill="none" stroke="#4b4b4b" stroke-width="1.8" stroke-linejoin="round" stroke-linecap="round" />
<path d="M866,566 L866,577.5 C865,582 863,585 860,587 C866,590 884,590 890,587 C887,585 885,582 884,577.5 L884,566 Z" fill="#f9eed9" stroke="#4b4b4b" stroke-width="2.4" stroke-linejoin="round" stroke-linecap="round" />
<clipPath id="w2face"><path d="M824.1,458.2 C835,467 850,473 865.1,476.4 C880,479.5 892,481 901.5,481 C910,481 915,479.5 919.7,478.7 C923,487 925.5,496 926.5,506 L924.3,528.8 C921,543 917,550 912.9,556.1 C903,566 888,573 869.7,574.3 C852,573 838,566 826.4,556.1 C820,547 816,538 815,528.8 L812.8,490 C813,478 818,466 824.1,458.2 Z"/></clipPath>
<path d="M824.1,458.2 C835,467 850,473 865.1,476.4 C880,479.5 892,481 901.5,481 C910,481 915,479.5 919.7,478.7 C923,487 925.5,496 926.5,506 L924.3,528.8 C921,543 917,550 912.9,556.1 C903,566 888,573 869.7,574.3 C852,573 838,566 826.4,556.1 C820,547 816,538 815,528.8 L812.8,490 C813,478 818,466 824.1,458.2 Z" fill="#f9eed9" />
<path d="M800,440 L940,440 L940,501 C900,500.5 850,503 800,509.5 Z" fill="#b6d0d7" clip-path="url(#w2face)"/>
<path d="M824.1,458.2 C835,467 850,473 865.1,476.4 C880,479.5 892,481 901.5,481 C910,481 915,479.5 919.7,478.7 C923,487 925.5,496 926.5,506 L924.3,528.8 C921,543 917,550 912.9,556.1 C903,566 888,573 869.7,574.3 C852,573 838,566 826.4,556.1 C820,547 816,538 815,528.8 L812.8,490 C813,478 818,466 824.1,458.2 Z" fill="none" stroke="#4b4b4b" stroke-width="2.9" stroke-linejoin="round" stroke-linecap="round" />
<path d="M846.9,449.1 C858,462 872,472 885.6,476.4 C893,479 898,481 903.8,482.6" fill="none" stroke="#4b4b4b" stroke-width="2.3" stroke-linejoin="round" stroke-linecap="round" />
<path d="M919,477 L924,476" fill="none" stroke="#4b4b4b" stroke-width="2.3" stroke-linejoin="round" stroke-linecap="round" />
<path d="M827.6,490.1 C832,486.5 838,483 844.6,481" fill="none" stroke="#4b4b4b" stroke-width="2.3" stroke-linejoin="round" stroke-linecap="round" />
<path d="M834.4,515.1 C837,519.5 848,520.5 851.4,515.1" fill="none" stroke="#4b4b4b" stroke-width="2.3" stroke-linejoin="round" stroke-linecap="round" />
<path d="M885.6,510.6 C888,515 900,516 903.8,510.6" fill="none" stroke="#4b4b4b" stroke-width="2.3" stroke-linejoin="round" stroke-linecap="round" />
<path d="M825.3,524.2 C822,531 823.5,539.5 828.7,539.5 C833,539.5 833,533 829,529" fill="#a8d6ee" stroke="#4b4b4b" stroke-width="1.9" stroke-linejoin="round" stroke-linecap="round" />
<path d="M914,506 C910.5,511 911,518.5 914.5,518.5 C918,518.5 918.5,513 916,510" fill="#a8d6ee" stroke="#4b4b4b" stroke-width="1.9" stroke-linejoin="round" stroke-linecap="round" />
<path d="M910.6,526.5 C906,532 905.5,543.5 909.5,543.5 C914,543.5 914,536 912,532" fill="#a8d6ee" stroke="#4b4b4b" stroke-width="1.9" stroke-linejoin="round" stroke-linecap="round" />
<path d="M867.4,532.8 C867.5,536 869.5,538 872,537.9" fill="none" stroke="#4b4b4b" stroke-width="1.9" stroke-linejoin="round" stroke-linecap="round" />
<path d="M851.4,563 C852,556 854,551 858.3,549.3 C862,548 866,550 869.7,550.4 C875,550 880,548 885.6,549.3 C889,551 891,556 890.1,558.4 C890,561 889,563 887.9,563 C882,561.5 876,560.5 869.7,560.7 C863,561 858,563 853.7,565.2 C852.5,565 851.5,564 851.4,563 Z" fill="#e08b86" stroke="#4b4b4b" stroke-width="2.9" stroke-linejoin="round" stroke-linecap="round" />
</svg>
</body></html>
